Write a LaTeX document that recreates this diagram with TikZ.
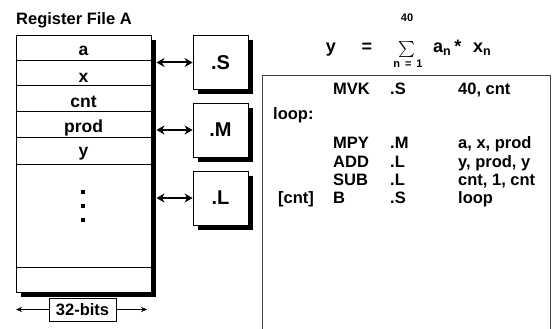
\documentclass[tikz,border=0pt]{standalone}
\usepackage{fontspec}
\setmainfont{Liberation Sans}[BoldFont={Liberation Sans Bold}]
\usetikzlibrary{arrows.meta,shadows}
\begin{document}
\begin{tikzpicture}[x=1pt, y=-1pt,
		every node/.style={font=\bfseries\fontsize{16.5}{19}\selectfont, inner sep=0pt},
		blackshadow/.style={general shadow={fill=black, shadow xshift=5pt, shadow yshift=-5pt}},
		unit/.style={draw, fill=white, line width=0.8pt, minimum width=55pt, minimum height=54pt, blackshadow, font=\bfseries\fontsize{20}{24}\selectfont},
		cell/.style={anchor=base, font=\bfseries\fontsize{17.5}{20}\selectfont},
		code/.style={anchor=base west},
		bus/.style={{Stealth[length=8pt,width=9pt]}-{Stealth[length=8pt,width=9pt]}, line width=2pt}]
		\useasboundingbox (0,0) rectangle (552,329);
		% register file
		\node (title) [anchor=base west, font=\bfseries\fontsize{16.5}{20}\selectfont] at (16,25) {Register File A};
		\node (rf) [draw, fill=white, line width=0.8pt, blackshadow, minimum width=135pt, minimum height=257pt] at (83.5,163.5) {};
		\foreach \yy in {60,85,111,137,164,267}
			\draw[line width=0.8pt] (16,\yy) -- (151,\yy);
		\foreach \t/\yy in {a/56, x/82, cnt/107, prod/132, y/157}
			\node (r\t) [cell] at (83.5,\yy) {\t};
		\foreach \yy in {192,206,220}
			\fill (81,\yy-2) rectangle +(4,4);
		\node (bits) [draw, line width=0.8pt, minimum width=67pt, minimum height=23pt] at (82.5,309.5) {32-bits};
		\coordinate (wl) at (16,309.5);
		\coordinate (wr) at (147,309.5);
		\draw[-{Stealth[length=6pt,width=5pt]}, thin] (bits.west) -- (wl);
		\draw[-{Stealth[length=6pt,width=5pt]}, thin] (bits.east) -- (wr);
		% functional units
		\node (S) [unit] at (220.5,62.5) {.S};
		\node (M) [unit] at (220.5,130) {.M};
		\node (L) [unit] at (220.5,198) {.L};
		\coordinate (rfR) at (156.5,0);
		\draw[bus] (S.west -| rfR) -- (S.west);
		\draw[bus] (M.west -| rfR) -- (M.west);
		\draw[bus] (L.west -| rfR) -- (L.west);
		% equation
		\node (ey) [anchor=base, font=\bfseries\fontsize{18}{21}\selectfont] at (331,53) {y};
		\node (eq) [anchor=base, font=\bfseries\fontsize{18}{21}\selectfont] at (367,53) {=};
		\node (sum) at (407,50) {\scalebox{1.6}{$\sum$}};
		\node (top) [font=\bfseries\fontsize{11}{13}\selectfont] at (407,18) {40};
		\node (bot) [font=\bfseries\fontsize{11}{13}\selectfont] at (408,64) {n \,=\, 1};
		\node (ean) [anchor=base west, font=\bfseries\fontsize{18}{21}\selectfont] at (433,53) {a\textsubscript{n}\,*};
		\node (exn) [anchor=base west, font=\bfseries\fontsize{18}{21}\selectfont] at (473,53) {x\textsubscript{n}};
		% code
		\draw[line width=0.9pt, black!75] (262,329) |- (550,75) -- (550,329);
		\node (c1a) [code] at (333,95) {MVK};
		\node (c1b) [code] at (390,95) {.S};
		\node (c1c) [code] at (458,95) {40, cnt};
		\node (lbl) [code] at (273,120) {loop:};
		\node (c2a) [code] at (333,148) {MPY};
		\node (c2b) [code] at (390,148) {.M};
		\node (c2c) [code] at (458,148) {a, x, prod};
		\node (c3a) [code] at (333,167) {ADD};
		\node (c3b) [code] at (390,167) {.L};
		\node (c3c) [code] at (458,167) {y, prod, y};
		\node (c4a) [code] at (333,185) {SUB};
		\node (c4b) [code] at (390,185) {.L};
		\node (c4c) [code] at (458,185) {cnt, 1, cnt};
		\node (cond) [code] at (278,203) {[cnt]};
		\node (c5a) [code] at (333,203) {B};
		\node (c5b) [code] at (390,203) {.S};
		\node (c5c) [code] at (458,203) {loop};
	\end{tikzpicture}
\end{document}
